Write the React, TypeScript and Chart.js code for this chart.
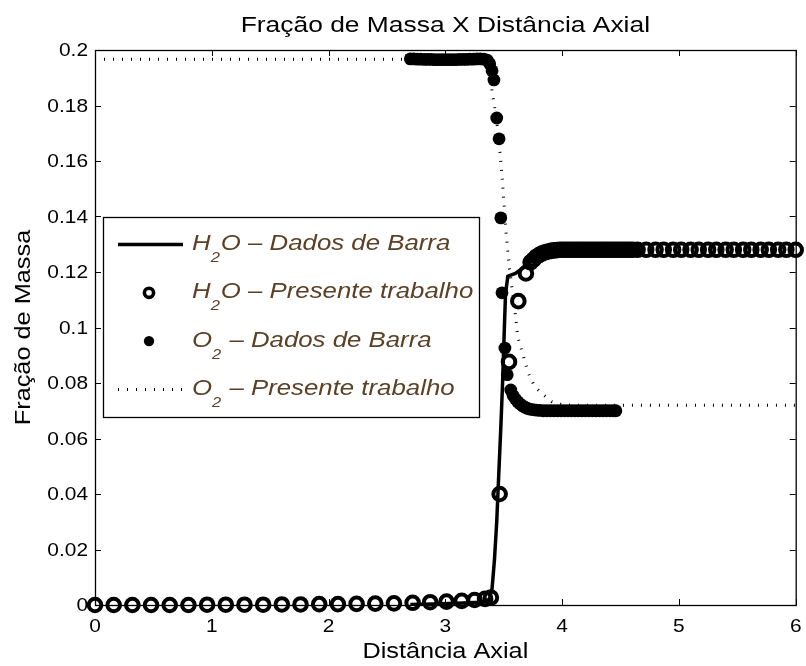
import React, { useEffect, useRef } from 'react';
import { Chart, registerables } from 'chart.js';

Chart.register(...registerables);

const TITLE = 'Fração de Massa X Distância Axial';
const X_LABEL = 'Distância Axial';
const Y_LABEL = 'Fração de Massa';
const X_TICKS = [0, 1, 2, 3, 4, 5, 6];
const Y_TICKS = [0, 0.02, 0.04, 0.06, 0.08, 0.1, 0.12, 0.14, 0.16, 0.18, 0.2];
const SERIES_LABELS = [
  'H₂O – Dados de Barra',
  'H₂O – Presente trabalho',
  'O₂ – Dados de Barra',
  'O₂ – Presente trabalho',
];

// H2O – Dados de Barra (solid line)
const H2O_BARRA_X = [2.70, 2.90, 3.10, 3.30, 3.36, 3.38, 3.40, 3.42, 3.44, 3.45, 3.475, 3.49, 3.50, 3.515, 3.535, 3.60, 3.65, 3.70, 3.75, 3.80, 3.85, 3.90, 4.00, 4.50];
const H2O_BARRA_Y = [0.0002, 0.0004, 0.0006, 0.0010, 0.0015, 0.0025, 0.0060, 0.0160, 0.0300, 0.0400, 0.0640, 0.0800, 0.0930, 0.1120, 0.1185, 0.1195, 0.1210, 0.1230, 0.1248, 0.1260, 0.1270, 0.1275, 0.1280, 0.1280];

// H2O – Presente trabalho (open circles)
const H2O_PRES_X = [
  0.00, 0.16, 0.32, 0.48, 0.64, 0.80, 0.96, 1.12, 1.28, 1.44, 1.60, 1.76, 1.92, 2.08, 2.24, 2.40, 2.56, 2.72, 2.87, 3.01, 3.14, 3.25, 3.34, 3.39,
  3.465, 3.545, 3.625, 3.69, 3.73,
  3.755, 3.78, 3.805, 3.83, 3.855, 3.88, 3.905, 3.93, 3.955, 3.98, 4.005, 4.03, 4.055, 4.08, 4.105, 4.13, 4.155, 4.18, 4.205, 4.23, 4.255, 4.28,
  4.305, 4.33, 4.355, 4.38, 4.405, 4.43, 4.455, 4.48, 4.505, 4.53, 4.555, 4.58, 4.605,
  4.646, 4.72, 4.80, 4.87, 4.95, 5.02, 5.10, 5.17, 5.25, 5.32, 5.40, 5.47, 5.55, 5.62, 5.70, 5.77, 5.85, 5.92, 6.00,
];
const H2O_PRES_Y = [
  0.0000, 0.0000, 0.0000, 0.0000, 0.0000, 0.0000, 0.0001, 0.0001, 0.0001, 0.0001, 0.0002, 0.0002, 0.0003, 0.0003, 0.0004, 0.0005, 0.0006, 0.0008, 0.0010, 0.0012, 0.0015, 0.0018, 0.0022, 0.0027,
  0.0400, 0.0876, 0.1095, 0.1195, 0.1235,
  0.1245, 0.1255, 0.1262, 0.1267, 0.1271, 0.1274, 0.1276, 0.1278, 0.1279, 0.1280, 0.1280, 0.1280, 0.1280, 0.1280, 0.1280, 0.1280, 0.1280, 0.1280, 0.1280, 0.1280, 0.1280, 0.1280,
  0.1280, 0.1280, 0.1280, 0.1280, 0.1280, 0.1280, 0.1280, 0.1280, 0.1280, 0.1280, 0.1280, 0.1280, 0.1280,
  0.1280, 0.1280, 0.1280, 0.1280, 0.1280, 0.1280, 0.1280, 0.1280, 0.1280, 0.1280, 0.1280, 0.1280, 0.1280, 0.1280, 0.1280, 0.1280, 0.1280, 0.1280, 0.1280,
];

// O2 – Dados de Barra (filled dots)
const O2_BARRA_X = [
  2.70, 2.73, 2.76, 2.79, 2.82, 2.85, 2.88, 2.91, 2.94, 2.97, 3.00, 3.03, 3.06, 3.09, 3.12, 3.15, 3.18, 3.21, 3.24, 3.27, 3.30, 3.33,
  3.36, 3.38, 3.40, 3.416, 3.44, 3.46, 3.475, 3.485, 3.51, 3.53, 3.56, 3.58, 3.60, 3.62, 3.64, 3.66, 3.68, 3.70, 3.72, 3.75, 3.78, 3.81,
  3.84, 3.87, 3.90, 3.93, 3.96, 3.99, 4.02, 4.05, 4.08, 4.11, 4.14, 4.17, 4.20, 4.23, 4.26, 4.29, 4.32, 4.35, 4.38, 4.41, 4.44, 4.46,
];
const O2_BARRA_Y = [
  0.1968, 0.1968, 0.1967, 0.1967, 0.1966, 0.1966, 0.1966, 0.1965, 0.1965, 0.1965, 0.1965, 0.1965, 0.1965, 0.1965, 0.1966, 0.1966, 0.1966, 0.1967, 0.1967, 0.1968, 0.1968, 0.1967,
  0.1963, 0.1950, 0.1925, 0.1892, 0.1755, 0.1680, 0.1395, 0.1125, 0.0926, 0.0830, 0.0775, 0.0755, 0.0742, 0.0732, 0.0724, 0.0718, 0.0713, 0.0709, 0.0706, 0.0704, 0.0702, 0.0701,
  0.0700, 0.0700, 0.0700, 0.0700, 0.0700, 0.0700, 0.0700, 0.0700, 0.0700, 0.0700, 0.0700, 0.0700, 0.0700, 0.0700, 0.0700, 0.0700, 0.0700, 0.0700, 0.0700, 0.0700, 0.0700, 0.0700,
];

// O2 – Presente trabalho (dotted line)
const O2_PRES_X = [0.00, 3.36, 3.38, 3.40, 3.42, 3.45, 3.47, 3.49, 3.52, 3.55, 3.60, 3.62, 3.67, 3.71, 3.765, 3.84, 3.91, 4.00, 4.10, 6.00];
const O2_PRES_Y = [0.1967, 0.1967, 0.1930, 0.1850, 0.1800, 0.1710, 0.1620, 0.1520, 0.1340, 0.1210, 0.1045, 0.0966, 0.0894, 0.0836, 0.0787, 0.0757, 0.0733, 0.0722, 0.0720, 0.0720];

const FONT = "'Liberation Sans', Arial, Helvetica, sans-serif";
const LEGEND_TEXT_COLOR = '#5a4128';

const zip = (xs: number[], ys: number[]) => xs.map((x, i) => ({ x, y: ys[i] }));

function drawText(
  ctx: CanvasRenderingContext2D,
  s: string,
  x: number,
  y: number,
  font: string,
  align: CanvasTextAlign,
  baseline: CanvasTextBaseline,
  sx: number,
  color: string,
  rotation = 0,
) {
  ctx.save();
  ctx.font = font;
  ctx.fillStyle = color;
  ctx.textAlign = align;
  ctx.textBaseline = baseline;
  ctx.translate(x, y);
  if (rotation) ctx.rotate(rotation);
  ctx.scale(sx, 1);
  ctx.fillText(s, 0, 0);
  ctx.restore();
}

function drawRichLabel(ctx: CanvasRenderingContext2D, label: string, x: number, y: number) {
  const sx = 1.2;
  const mainFont = `italic 21.5px ${FONT}`;
  const subFont = `italic 15px ${FONT}`;
  const parts = label.split(/(₂)/);
  let cx = x;
  for (const p of parts) {
    if (!p) continue;
    const isSub = p === '₂';
    const txt = isSub ? '2' : p;
    const s = isSub ? 1.1 : sx;
    ctx.save();
    ctx.font = isSub ? subFont : mainFont;
    ctx.fillStyle = LEGEND_TEXT_COLOR;
    ctx.textAlign = 'left';
    ctx.textBaseline = 'alphabetic';
    const w = ctx.measureText(txt).width * s;
    ctx.translate(cx, y + (isSub ? 12 : 0));
    ctx.scale(s, 1);
    ctx.fillText(txt, 0, 0);
    ctx.restore();
    cx += w + (isSub ? 1 : 0);
  }
}

const overlayPlugin = {
  id: 'matlabOverlay',
  afterDraw(chart: any) {
    const { ctx, chartArea: ca, scales } = chart;
    const xs = scales.x;
    const ys = scales.y;
    const TICK = 6;
    ctx.save();
    ctx.strokeStyle = '#000';
    ctx.lineWidth = 1;
    ctx.setLineDash([]);
    ctx.beginPath();
    for (const t of X_TICKS) {
      const px = Math.round(xs.getPixelForValue(t)) + 0.5;
      ctx.moveTo(px, ca.bottom);
      ctx.lineTo(px, ca.bottom - TICK);
      ctx.moveTo(px, ca.top);
      ctx.lineTo(px, ca.top + TICK);
    }
    for (const t of Y_TICKS) {
      const py = Math.round(ys.getPixelForValue(t)) + 0.5;
      ctx.moveTo(ca.left, py);
      ctx.lineTo(ca.left + TICK, py);
      ctx.moveTo(ca.right, py);
      ctx.lineTo(ca.right - TICK, py);
    }
    ctx.stroke();
    ctx.lineWidth = 1.3;
    ctx.strokeRect(ca.left + 0.5, ca.top + 0.5, ca.right - ca.left, ca.bottom - ca.top);

    for (const t of X_TICKS) {
      drawText(ctx, String(t), xs.getPixelForValue(t), ca.bottom + 27, `19px ${FONT}`, 'center', 'alphabetic', 1.1, '#000');
    }
    for (const t of Y_TICKS) {
      const lbl = String(+t.toFixed(2));
      drawText(ctx, lbl, ca.left - 7, ys.getPixelForValue(t) + 1, `19px ${FONT}`, 'right', 'middle', 1.1, '#000');
    }
    const cx = (ca.left + ca.right) / 2;
    const cy = (ca.top + ca.bottom) / 2;
    drawText(ctx, TITLE, cx, ca.top - 18, `22px ${FONT}`, 'center', 'alphabetic', 1.2, '#000');
    drawText(ctx, X_LABEL, cx, ca.bottom + 53, `22px ${FONT}`, 'center', 'alphabetic', 1.15, '#000');
    drawText(ctx, Y_LABEL, 30, cy, `22px ${FONT}`, 'center', 'alphabetic', 1.15, '#000', -Math.PI / 2);

    const lx = ca.left + 8;
    const ly = ca.top + 167;
    const lw = 376;
    const lh = 200;
    ctx.fillStyle = '#fff';
    ctx.fillRect(lx, ly, lw, lh);
    ctx.lineWidth = 1.3;
    ctx.strokeStyle = '#000';
    ctx.strokeRect(lx + 0.5, ly + 0.5, lw, lh);
    chart.data.datasets.forEach((ds: any, i: number) => {
      const base = ly + 33 + i * 48.3;
      const sy = base - 5.5;
      ctx.save();
      if (ds.showLine) {
        ctx.strokeStyle = ds.borderColor;
        ctx.lineWidth = ds.borderWidth;
        ctx.lineCap = 'butt';
        ctx.setLineDash(ds.borderDash || []);
        ctx.beginPath();
        ctx.moveTo(lx + 15, sy);
        ctx.lineTo(lx + 80, sy);
        ctx.stroke();
      } else {
        const filled = ds.pointBackgroundColor !== 'rgba(0,0,0,0)';
        ctx.beginPath();
        if (filled) {
          ctx.arc(lx + 46, sy, 5.2, 0, Math.PI * 2);
          ctx.fillStyle = ds.pointBackgroundColor;
          ctx.fill();
        } else {
          ctx.arc(lx + 46, sy, 4.6, 0, Math.PI * 2);
          ctx.lineWidth = 3.6;
          ctx.strokeStyle = ds.pointBorderColor;
          ctx.stroke();
        }
      }
      ctx.restore();
      drawRichLabel(ctx, ds.label, lx + 89, base);
    });
    ctx.restore();
  },
};

export default function App() {
  const ref = useRef<HTMLCanvasElement>(null);
  useEffect(() => {
    const canvas = ref.current!;
    const chart = new Chart(canvas, {
      type: 'scatter',
      data: {
        datasets: [
          {
            label: SERIES_LABELS[0],
            data: zip(H2O_BARRA_X, H2O_BARRA_Y),
            showLine: true,
            borderColor: '#000',
            borderWidth: 3.5,
            pointRadius: 0,
            pointHoverRadius: 0,
            tension: 0,
          },
          {
            label: SERIES_LABELS[1],
            data: zip(H2O_PRES_X, H2O_PRES_Y),
            showLine: false,
            pointRadius: 6.3,
            pointHoverRadius: 6.3,
            pointBorderWidth: 4,
            pointBorderColor: '#000',
            pointBackgroundColor: 'rgba(0,0,0,0)',
            clip: false,
          },
          {
            label: SERIES_LABELS[2],
            data: zip(O2_BARRA_X, O2_BARRA_Y),
            showLine: false,
            pointRadius: 6.4,
            pointHoverRadius: 6.4,
            pointBorderWidth: 0,
            pointBorderColor: '#000',
            pointBackgroundColor: '#000',
            clip: false,
          },
          {
            label: SERIES_LABELS[3],
            data: zip(O2_PRES_X, O2_PRES_Y),
            showLine: true,
            borderColor: '#000',
            borderWidth: 3,
            borderDash: [1, 8],
            borderCapStyle: 'butt',
            pointRadius: 0,
            pointHoverRadius: 0,
            tension: 0,
          },
        ],
      } as any,
      options: {
        responsive: false,
        animation: false,
        devicePixelRatio: 1,
        events: [],
        layout: { padding: { left: 95, top: 50, right: 7, bottom: 61 } },
        plugins: {
          legend: { display: false },
          title: { display: false },
          tooltip: { enabled: false },
        },
        scales: {
          x: { type: 'linear', min: 0, max: 6, display: false, ticks: { stepSize: 1 } },
          y: { type: 'linear', min: 0, max: 0.2, display: false, ticks: { stepSize: 0.02 } },
        },
      } as any,
      plugins: [overlayPlugin],
    });
    return () => chart.destroy();
  }, []);
  return (
    <div style={{ position: 'absolute', left: 0, top: 0, width: 806, height: 666, background: '#fff' }}>
      <canvas ref={ref} width={806} height={666} style={{ display: 'block', width: 806, height: 666 }} />
    </div>
  );
}
